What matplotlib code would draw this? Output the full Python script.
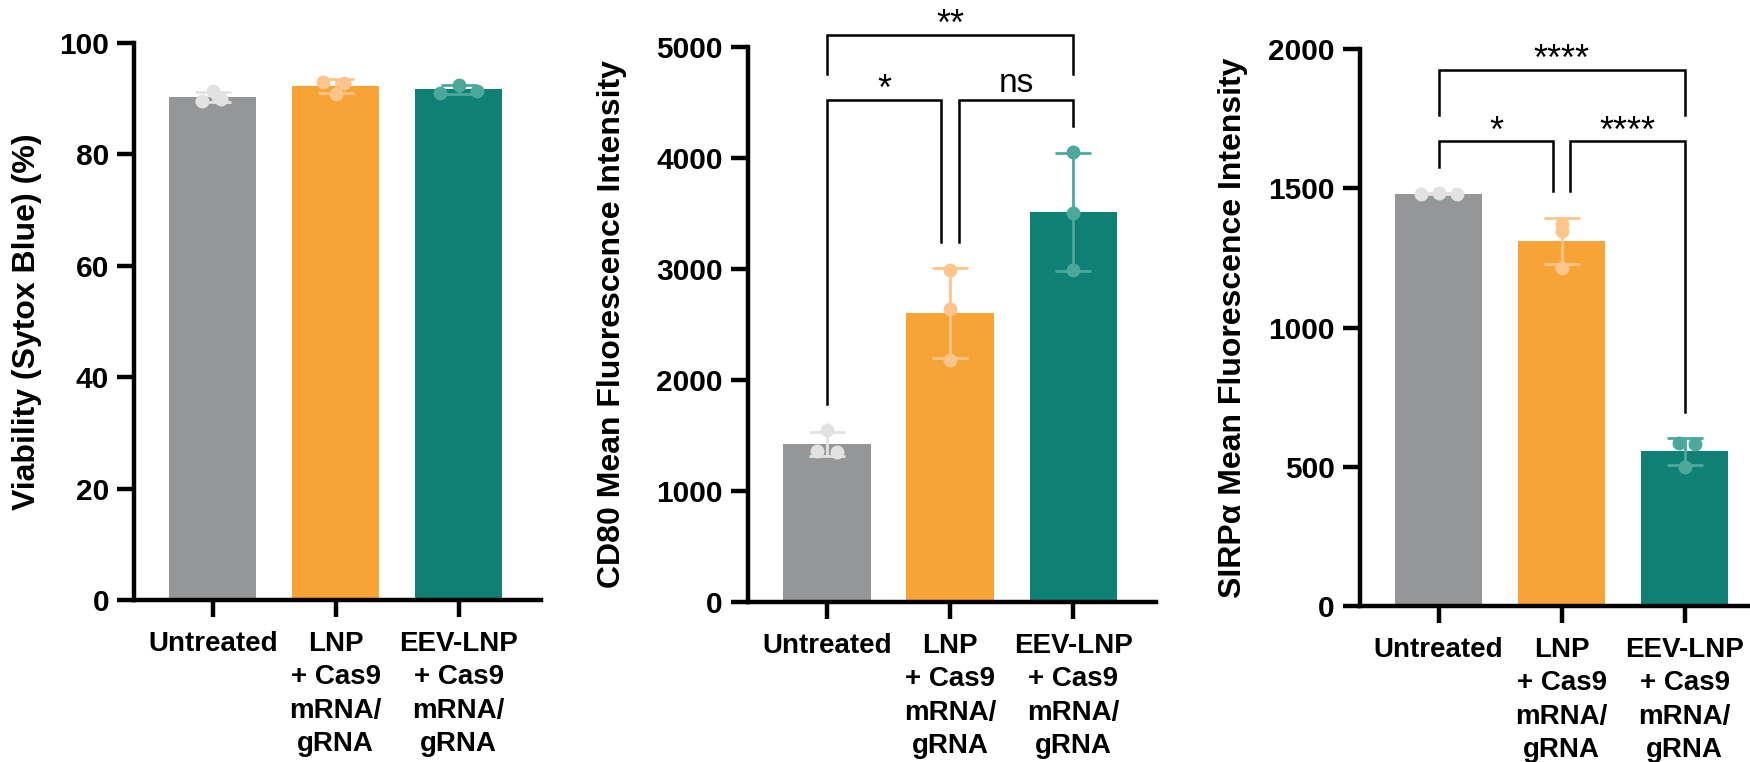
import numpy as np
import matplotlib
matplotlib.use("Agg")
import matplotlib.pyplot as plt

plt.rcParams['font.family'] = ['Liberation Sans', 'DejaVu Sans']

# groups on the x axis
groups = ['Untreated', 'LNP\n+ Cas9\nmRNA/\ngRNA', 'EEV-LNP\n+ Cas9\nmRNA/\ngRNA']

# replicate values (n = 3 per group)
viability = [[89.6, 91.3, 89.9], [93.0, 92.9, 90.9], [91.1, 92.5, 91.4]]
cd80 = [[1545, 1360, 1355], [2990, 2640, 2180], [4055, 3505, 2990]]
sirpa = [[1478, 1482, 1480], [1372, 1345, 1215], [585, 580, 500]]

# sideways spread of the replicate dots so they don't overlap
viability_spread = [[-0.085, 0.0, 0.07], [-0.10, 0.07, 0.0], [-0.15, 0.0, 0.15]]
cd80_spread = [[0.0, -0.08, 0.08], [0.0, 0.0, 0.0], [0.0, 0.0, 0.0]]
sirpa_spread = [[-0.14, 0.0, 0.15], [0.0, 0.0, 0.0], [-0.05, 0.08, 0.0]]

# pairwise comparisons
cd80_tests = [(0, 1, '*'), (1, 2, 'ns'), (0, 2, '**')]
sirpa_tests = [(0, 1, '*'), (1, 2, '****'), (0, 2, '****')]

bar_colors = ['#959698', '#F7A335', '#0E8074']
dot_colors = ['#E2E2E2', '#FDC48C', '#4DA89C']

LW = 3.2
XTICK_FS = 20
YTICK_FS = 21.5
LABEL_FS = 23


def draw_panel(ax, reps, spread, ymax, yticks, ylabel, xmax=2.67):
    x = np.arange(len(groups))
    means = [np.mean(r) for r in reps]
    sds = [np.std(r, ddof=1) for r in reps]
    ax.bar(x, means, width=0.71, color=bar_colors, zorder=1)
    for k in range(len(groups)):
        ax.errorbar(x[k], means[k], yerr=sds[k], color=dot_colors[k], capsize=13,
                    elinewidth=2, capthick=2, zorder=2, clip_on=False)
        ax.plot(x[k] + np.array(spread[k]), reps[k], 'o', ms=10, color=dot_colors[k],
                mec='none', zorder=3, clip_on=False)
    ax.set_xlim(-0.64, xmax)
    ax.set_ylim(0, ymax)
    ax.set_yticks(yticks)
    ax.set_xticks(x)
    ax.set_xticklabels(groups, fontsize=XTICK_FS, fontweight='bold', linespacing=1.38)
    for lab in ax.get_yticklabels():
        lab.set_fontsize(YTICK_FS)
        lab.set_fontweight('bold')
    ax.set_ylabel(ylabel, fontsize=LABEL_FS, fontweight='bold')
    for s in ['top', 'right']:
        ax.spines[s].set_visible(False)
    for s in ['left', 'bottom']:
        ax.spines[s].set_linewidth(LW)
    ax.tick_params(axis='both', length=12, width=LW, color='black')
    ax.tick_params(axis='x', pad=10)
    ax.tick_params(axis='y', pad=6)
    tops = [max(max(r), m + s) for r, m, s in zip(reps, means, sds)]
    return tops


def draw_brackets(ax, tops, tests, ymax, step):
    gap = 0.047 * ymax
    low = max(tops) + 0.093 * ymax
    high = low + step * ymax
    for i, j, txt in tests:
        if j - i == 1:
            y = low
            x0 = i + 0.07 * (i == 1)
            x1 = j - 0.07 * (j == 1)
            l0, l1 = tops[i] + gap, tops[j] + gap
        else:
            y = high
            x0, x1 = i, j
            l0 = l1 = low + gap
        ax.plot([x0, x0, x1, x1], [l0, y, y, l1], color='black', lw=1.8,
                clip_on=False, solid_joinstyle='miter')
        star = txt.startswith('*')
        ax.annotate(txt, ((x0 + x1) / 2, y), xytext=(0, 0 if star else 6),
                    textcoords='offset points', ha='center', va='baseline',
                    fontsize=26 if star else 24, annotation_clip=False)


fig = plt.figure(figsize=(17.5, 7.62), dpi=100)

ax1 = fig.add_axes([0.0766, 0.2126, 0.2326, 0.731])
draw_panel(ax1, viability, viability_spread, 100, [0, 20, 40, 60, 80, 100],
           'Viability (Sytox Blue) (%)')
ax1.yaxis.set_label_coords(-0.226, 0.5)

ax2 = fig.add_axes([0.4274, 0.2100, 0.2331, 0.7283])
tops2 = draw_panel(ax2, cd80, cd80_spread, 5000, [0, 1000, 2000, 3000, 4000, 5000],
                   'CD80 Mean Fluorescence Intensity')
ax2.yaxis.set_label_coords(-0.297, 0.5)
draw_brackets(ax2, tops2, cd80_tests, 5000, 0.118)

ax3 = fig.add_axes([0.7771, 0.2047, 0.2229, 0.731])
tops3 = draw_panel(ax3, sirpa, sirpa_spread, 2000, [0, 500, 1000, 1500, 2000],
                   'SIRPα Mean Fluorescence Intensity', xmax=2.53)
ax3.yaxis.set_label_coords(-0.287, 0.5)
draw_brackets(ax3, tops3, sirpa_tests, 2000, 0.128)

fig.savefig('out.png', dpi=100)
